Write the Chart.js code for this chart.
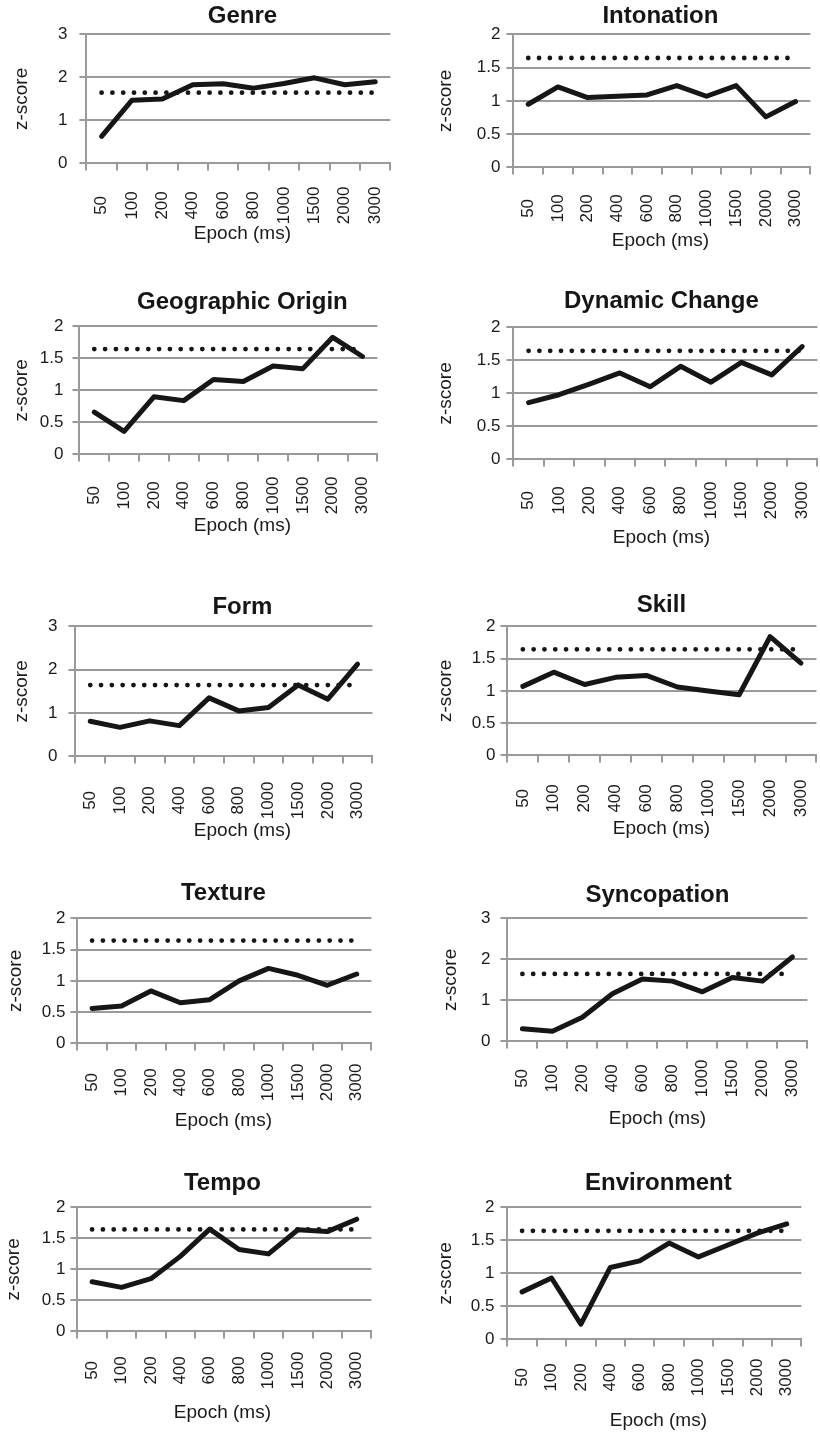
<!DOCTYPE html>
<html>
<head>
<meta charset="utf-8">
<script src="https://cdn.jsdelivr.net/npm/chart.js@4.4.1/dist/chart.umd.min.js"></script>
<style>
    html, body { margin: 0; padding: 0; background: #fff; }
    body { position: relative; width: 820px; height: 1432px; overflow: hidden; }
    .panel { position: absolute; }
</style>
</head>
<body>
<script>
// epochs (ms) shared by every panel
const epochs = ['50', '100', '200', '400', '600', '800', '1000', '1500', '2000', '3000'];
// one-tailed 5% critical z value, drawn as the dotted line
const threshold = [1.645, 1.645, 1.645, 1.645, 1.645, 1.645, 1.645, 1.645, 1.645, 1.645];

const genre       = [0.63, 1.47, 1.50, 1.83, 1.85, 1.75, 1.86, 1.99, 1.83, 1.90];
const intonation  = [0.95, 1.21, 1.05, 1.07, 1.09, 1.23, 1.07, 1.23, 0.76, 0.99];
const geographic  = [0.66, 0.36, 0.90, 0.84, 1.17, 1.14, 1.38, 1.34, 1.83, 1.53];
const dynamic     = [0.86, 0.98, 1.14, 1.31, 1.10, 1.41, 1.17, 1.47, 1.28, 1.71];
const form        = [0.81, 0.67, 0.82, 0.71, 1.35, 1.05, 1.13, 1.65, 1.32, 2.13];
const skill       = [1.07, 1.29, 1.10, 1.21, 1.24, 1.06, 1.00, 0.94, 1.84, 1.43];
const texture     = [0.56, 0.60, 0.84, 0.65, 0.70, 1.00, 1.20, 1.09, 0.93, 1.11];
const syncopation = [0.31, 0.25, 0.59, 1.16, 1.52, 1.47, 1.21, 1.56, 1.47, 2.06];
const tempo       = [0.80, 0.71, 0.85, 1.21, 1.65, 1.32, 1.25, 1.64, 1.61, 1.81];
const environment = [0.72, 0.93, 0.23, 1.09, 1.19, 1.46, 1.25, 1.43, 1.61, 1.75];

// y axis ranges
const range3 = { max: 3, step: 1 };
const range2 = { max: 2, step: 0.5 };

// layout of each panel (plot box = left, top, right, bottom in page px)
const panels = [
    { title: 'Genre', data: genre, range: range3, box: [86, 34, 390, 163], tx: 242, tGap: 18, zx: 21, yGap: 19, xl: 42, ex: 70 },
    { title: 'Intonation', data: intonation, range: range2, box: [513, 34, 810, 167], tx: 660, tGap: 18, zx: 445, yGap: 13, xl: 41, ex: 73 },
    { title: 'Geographic Origin', data: geographic, range: range2, box: [79, 326, 377, 454], tx: 242, tGap: 24, zx: 21, yGap: 16, xl: 41, ex: 71 },
    { title: 'Dynamic Change', data: dynamic, range: range2, box: [513, 327, 817, 459], tx: 661, tGap: 26, zx: 445, yGap: 13, xl: 41, ex: 78 },
    { title: 'Form', data: form, range: range3, box: [75, 626, 372, 756], tx: 242, tGap: 19, zx: 21, yGap: 18, xl: 44, ex: 74 },
    { title: 'Skill', data: skill, range: range2, box: [507, 626, 816, 755], tx: 661, tGap: 21, zx: 445, yGap: 12, xl: 43, ex: 73 },
    { title: 'Texture', data: texture, range: range2, box: [77, 918, 371, 1043], tx: 223, tGap: 25, zx: 15, yGap: 12, xl: 39, ex: 77 },
    { title: 'Syncopation', data: syncopation, range: range3, box: [507, 918, 807, 1041], tx: 657, tGap: 23, zx: 450, yGap: 17, xl: 37, ex: 77 },
    { title: 'Tempo', data: tempo, range: range2, box: [77, 1207, 371, 1331], tx: 222, tGap: 24, zx: 13, yGap: 12, xl: 39, ex: 81 },
    { title: 'Environment', data: environment, range: range2, box: [507, 1207, 801, 1339], tx: 658, tGap: 24, zx: 445, yGap: 13, xl: 38, ex: 81 }
];

const FONT = '"Liberation Sans", Arial, Helvetica, sans-serif';
const INK = '#161616';
const TEXT = '#1a1a1a';
const GRID = '#9a9a9a';
const TICK_SIZE = 17;
const AXIS_SIZE = 19;
const HALF_AXIS = AXIS_SIZE * 1.2 / 2;

Chart.defaults.font.family = FONT;
Chart.defaults.color = TEXT;

// vertical x labels, centred on each category (Excel style)
const xLabels = {
    id: 'xLabels',
    afterDraw(chart, args, opts) {
        const sc = chart.scales.x;
        const ctx = chart.ctx;
        ctx.save();
        ctx.font = TICK_SIZE + 'px ' + FONT;
        ctx.fillStyle = TEXT;
        ctx.textAlign = 'center';
        ctx.textBaseline = 'middle';
        chart.data.labels.forEach((lab, i) => {
            ctx.save();
            ctx.translate(sc.getPixelForValue(i), sc.top + opts.offset);
            ctx.rotate(-Math.PI / 2);
            ctx.fillText(lab, 0, 0);
            ctx.restore();
        });
        ctx.restore();
    }
};

panels.forEach(p => {
    const [L, T, R, B] = p.box;
    const cl = p.zx - HALF_AXIS;
    const cr = 2 * p.tx - cl;
    const padR = cr - R;
    const ct = T - p.tGap - 14.4;
    const xs = p.ex - HALF_AXIS;
    const cb = B + xs + 2 * HALF_AXIS;

    const div = document.createElement('div');
    div.className = 'panel';
    div.style.left = cl + 'px';
    div.style.top = ct + 'px';
    div.style.width = (cr - cl) + 'px';
    div.style.height = (cb - ct) + 'px';
    const canvas = document.createElement('canvas');
    div.appendChild(canvas);
    document.body.appendChild(div);

    new Chart(canvas.getContext('2d'), {
        type: 'line',
        data: {
            labels: epochs,
            datasets: [{
                data: p.data,
                yAxisID: 'y',
                borderColor: INK,
                borderWidth: 5,
                borderJoinStyle: 'round',
                borderCapStyle: 'round',
                pointRadius: 0,
                tension: 0
            }, {
                data: threshold,
                yAxisID: 'y',
                borderColor: INK,
                borderWidth: 4.8,
                borderDash: [0, 10.8],
                borderCapStyle: 'round',
                pointRadius: 0,
                tension: 0
            }]
        },
        options: {
            responsive: true,
            maintainAspectRatio: false,
            animation: false,
            layout: { padding: 0 },
            plugins: {
                legend: { display: false },
                tooltip: { enabled: false },
                title: {
                    display: true,
                    text: p.title,
                    color: INK,
                    font: { size: 24, weight: 'bold', lineHeight: 1.2 },
                    padding: { top: 0, bottom: p.tGap - 14.4 }
                },
                subtitle: {
                    display: true,
                    position: 'bottom',
                    text: 'Epoch (ms)',
                    color: TEXT,
                    font: { size: AXIS_SIZE, lineHeight: 1.2 },
                    padding: 0
                },
                xLabels: { offset: p.xl }
            },
            scales: {
                x: {
                    offset: true,
                    grid: {
                        display: true,
                        drawOnChartArea: false,
                        drawTicks: true,
                        tickLength: 7,
                        offset: true,
                        color: GRID,
                        lineWidth: 2
                    },
                    border: { color: GRID, width: 2 },
                    ticks: { display: false, autoSkip: false },
                    afterFit(s) { s.height = xs; }
                },
                y: {
                    min: 0,
                    max: p.range.max,
                    grid: { color: GRID, lineWidth: 2, tickLength: 7 },
                    border: { color: GRID, width: 2 },
                    ticks: {
                        stepSize: p.range.step,
                        padding: p.yGap - 7,
                        font: { size: TICK_SIZE },
                        color: TEXT,
                        callback: v => String(v)
                    },
                    title: {
                        display: true,
                        text: 'z-score',
                        font: { size: AXIS_SIZE, lineHeight: 1.2 },
                        color: TEXT,
                        padding: { top: 0, bottom: 0 }
                    },
                    afterFit(s) { s.width = L - cl; }
                },
                yR: {
                    type: 'linear',
                    position: 'right',
                    grid: { display: false },
                    border: { display: false },
                    ticks: { display: false },
                    afterFit(s) { s.width = padR; }
                }
            }
        },
        plugins: [xLabels]
    });
});
</script>
</body>
</html>
